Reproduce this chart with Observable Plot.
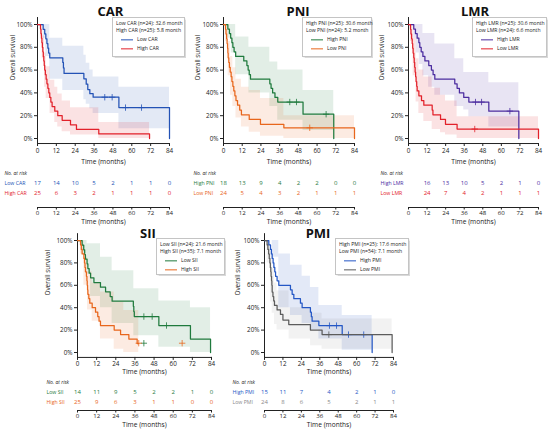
<!DOCTYPE html>
<html><head><meta charset="utf-8">
<script src="https://cdn.jsdelivr.net/npm/d3@7"></script>
<script src="https://cdn.jsdelivr.net/npm/@observablehq/plot@0.6"></script>
<style>
body{margin:0;background:#fff;}
#fig{position:relative;width:550px;height:432px;overflow:hidden;background:#fff;font-family:"Open Sans",sans-serif;}
#fig svg{position:absolute;overflow:visible;}
.ttl{position:absolute;font-weight:700;font-size:13px;color:#111;transform:translate(-50%,-50%);white-space:nowrap;line-height:1;}
.lg{position:absolute;background:#fff;border:0.6px solid #c4c4c4;box-shadow:0.6px 0.6px 1px rgba(0,0,0,0.15);box-sizing:border-box;}
.lg div{position:absolute;white-space:nowrap;font-size:5.1px;color:#222;line-height:1;transform:translateY(-50%);}
.lg span{position:absolute;height:1.3px;transform:translateY(-50%);}
</style></head><body><div id="fig"></div>
<script>
// ---------- data ----------
const X_TICKS = [0, 12, 24, 36, 48, 60, 72, 84];
const Y_TICKS = [0, 20, 40, 60, 80, 100];

// CAR
const carLowT = [0, 3.6, 4.6, 5.3, 6, 6.6, 7.1, 7.8, 16.1, 16.5, 16.9, 29.5, 31, 32, 33.3, 35.4, 51.8, 84];
const carLowS = [100, 95.8, 91.7, 87.5, 83.3, 79.2, 75, 70.8, 66.7, 61.9, 57.1, 52.4, 47.6, 42.9, 39.3, 36.2, 27.1, 0];
const carLowCT = [42.8, 47.5, 56, 66.2];
const carLowCS = [36.2, 36.2, 27.1, 27.1];
const carLowBT = [0, 3.6, 5.3, 7.8, 16.1, 29.5, 31, 33.3, 35.4, 51.8, 84];
const carLowHi = [100, 100, 100, 88, 81, 73, 66, 60, 54, 45, 45];
const carLowLo = [100, 88, 72, 52, 42, 34, 30, 26, 22, 8.5, 8.5];
const carHighT = [0, 1.9, 2.2, 2.5, 2.8, 3.1, 3.4, 3.7, 4, 4.3, 4.6, 5, 5.5, 6, 6.6, 7.2, 7.8, 8.5, 9.3, 11, 12.9, 15.7, 21, 24.8, 39, 71.3];
const carHighS = [100, 96, 92, 88, 84, 80, 76, 72, 68, 64, 60, 56, 52, 48, 44, 40, 36, 32, 28, 24, 20, 16, 12, 8, 4, 0];
const carHighCT = [];
const carHighCS = [];
const carHighBT = [0, 1.9, 3, 4.5, 5.5, 8, 11, 12.9, 15.7, 21, 39, 71.3];
const carHighHi = [100, 100, 90, 75, 63, 51, 45, 39, 33, 27, 14, 14];
const carHighLo = [100, 90, 70, 45, 35, 22, 14, 10, 6, 3, 0, 0];

// PNI
const pniHighT = [0, 2.8, 3.8, 4.6, 5.4, 6, 6.8, 7.8, 13, 15, 15.8, 16.5, 17.3, 29.7, 30.5, 31.5, 33, 34.8, 51, 70.7];
const pniHighS = [100, 96, 92, 88, 84, 80, 76, 72, 68, 64, 60, 56, 52, 48, 44, 40, 36, 32, 21.3, 0];
const pniHighCT = [42.5, 46.8, 65.8];
const pniHighCS = [32, 32, 21.3];
const pniHighBT = [0, 2.8, 5, 7.8, 16.3, 29.7, 34.8, 51, 70.7];
const pniHighHi = [100, 100, 100, 89, 80, 67, 60, 42, 42];
const pniHighLo = [100, 88, 75, 56, 40, 28, 16, 7, 7];
const pniLowT = [0, 1.3, 1.6, 2, 2.3, 2.6, 2.8, 3, 3.4, 3.8, 4.3, 4.9, 5.4, 6, 6.6, 7.3, 8, 9, 10.4, 11.5, 16.5, 23.7, 38.7, 84];
const pniLowS = [100, 95.8, 91.7, 87.5, 83.3, 79.2, 75, 70.8, 66.7, 62.5, 58.3, 54.2, 50, 45.8, 41.7, 37.5, 33.3, 29.2, 25, 20.8, 16.7, 12.5, 9.4, 0];
const pniLowCT = [55.3];
const pniLowCS = [9.4];
const pniLowBT = [0, 1.3, 3, 4.5, 6, 8, 11.5, 16.5, 23.7, 38.7, 84];
const pniLowHi = [100, 100, 85, 72, 62, 52, 45, 42, 35, 20, 20];
const pniLowLo = [100, 85, 55, 38, 28, 18, 10, 5.5, 2, 0, 0];

// LMR
const lmrHighT = [0, 3.4, 4.5, 5.6, 6.7, 7.3, 8.2, 9.3, 10.6, 13.1, 14.8, 15.9, 17, 29.9, 31.4, 32.9, 35.7, 39, 51.9, 71.3];
const lmrHighS = [100, 96, 92, 88, 84, 80, 76, 72, 68, 64, 60, 56, 52, 48, 44, 40, 36, 32, 24, 0];
const lmrHighCT = [43.3, 47.2, 65.5];
const lmrHighCS = [32, 32, 24];
const lmrHighBT = [0, 3.4, 5, 7, 9.3, 13, 17, 29.9, 35.7, 39, 51.9, 71.3];
const lmrHighHi = [100, 100, 100, 100, 92, 92, 83, 70, 58, 58, 49, 49];
const lmrHighLo = [100, 88, 75, 65, 55, 45, 38, 28, 25, 19, 10, 10];
const lmrLowT = [0, 1.3, 1.6, 2, 2.4, 2.7, 3, 3.4, 3.7, 4, 4.3, 4.6, 4.9, 5.3, 5.6, 6.7, 8.4, 9.9, 15.3, 15.8, 20.7, 23.9, 31.4, 84];
const lmrLowS = [100, 95.8, 91.7, 87.5, 83.3, 79.2, 75, 70.8, 66.7, 62.5, 58.3, 54.2, 50, 45.8, 41.7, 37.5, 33.3, 29.2, 25, 20.8, 16.7, 12.5, 8.3, 0];
const lmrLowCT = [42.8];
const lmrLowCS = [8.3];
const lmrLowBT = [0, 1.3, 3, 4.9, 6.7, 9.9, 15.3, 20.7, 23.9, 31.4, 84];
const lmrLowHi = [100, 100, 88, 70, 60, 54, 44, 38, 33, 19, 19];
const lmrLowLo = [100, 85, 55, 32, 22, 15, 8, 5, 3, 0, 0];

// SII
const siiLowT = [0, 2.9, 3.9, 4.5, 5, 6, 6.5, 7.3, 8.2, 10.3, 14.4, 17.6, 20.5, 21.7, 35, 35.3, 35.6, 51, 70.8, 83.4];
const siiLowS = [100, 95.8, 91.7, 87.5, 83.3, 79.2, 75, 70.8, 66.7, 62.5, 58.3, 54.2, 50, 45.8, 41.2, 36.6, 32.1, 24.1, 12, 0];
const siiLowCT = [41.6, 46.8, 55.8, 41.6];
const siiLowCS = [32.1, 32.1, 24.1, 8.3];
const siiLowBT = [0, 2.9, 6, 8.2, 14.4, 21.7, 35.3, 51, 70.8, 83.4];
const siiLowHi = [100, 100, 97, 97, 85, 73, 57, 46, 40, 40];
const siiLowLo = [100, 88, 70, 50, 40, 26, 15, 4.7, 0, 0];
const siiHighT = [0, 1.9, 2.4, 2.9, 4, 4.4, 4.7, 5, 5.6, 5.9, 6.1, 6.3, 6.5, 7.1, 7.7, 9.2, 11.3, 12.7, 13.5, 14.4, 23, 27, 32.2, 37.4, 38.4];
const siiHighS = [100, 96, 92, 88, 84, 80, 76, 72, 68, 64, 60, 56, 52, 48, 44, 40, 36, 32, 28, 24, 20, 16, 12, 8, 8];
const siiHighCT = [38.4, 65.6];
const siiHighCS = [8.3, 8.3];
const siiHighBT = [0, 1.9, 4, 6.3, 9.2, 14.4, 23, 29, 38.4];
const siiHighHi = [100, 100, 85, 72, 62, 54, 45, 37.5, 37.5];
const siiHighLo = [100, 88, 60, 38, 28, 12, 3, 0, 0];

// PMI
const pmiHighT = [0, 2.8, 3.9, 4.5, 5, 5.6, 6.1, 6.7, 7.2, 8.2, 9.3, 16.9, 18, 19.1, 23.4, 24.5, 29.9, 30.5, 31, 35.4, 50.6, 70.1];
const pmiHighS = [100, 96, 92, 88, 84, 80, 76, 72, 68, 64, 60, 56, 52, 48, 44, 40, 36, 32, 28, 24, 16, 0];
const pmiHighCT = [42.3, 46.9, 54.7, 64.6];
const pmiHighCS = [24, 24, 16, 16];
const pmiHighBT = [0, 5, 9.3, 16.9, 24.5, 29.9, 35.4, 50.6, 70.1];
const pmiHighHi = [100, 100, 88, 78, 68, 58, 42, 33, 33];
const pmiHighLo = [100, 85, 40, 33, 26, 20, 12, 2, 2];
const pmiLowT = [0, 1.7, 2.2, 2.7, 3.1, 3.5, 3.8, 4.1, 4.3, 4.6, 4.8, 5, 5.5, 6, 6.5, 8.2, 10.4, 12, 15.8, 29.9, 37.5, 83.1];
const pmiLowS = [100, 96, 92, 88, 84, 80, 76, 72, 68, 64, 60, 54, 50, 46, 42, 38, 34, 29, 25, 20, 16, 0];
const pmiLowCT = [41.9];
const pmiLowCS = [16];
const pmiLowBT = [0, 1.7, 4, 5, 6.5, 8.2, 16, 30, 37.5, 83.1];
const pmiLowHi = [100, 100, 90, 75, 62, 55, 40, 35, 30, 30];
const pmiLowLo = [100, 80, 45, 35, 25, 20, 12, 6, 3, 3];

// numbers at risk
const RISK_T = [0, 12, 24, 36, 48, 60, 72, 84];
const carRiskLow = [17, 14, 10, 5, 2, 1, 1, 0];
const carRiskHigh = [25, 6, 3, 2, 1, 1, 1, 0];
const pniRiskHigh = [18, 13, 9, 4, 2, 2, 0, 0];
const pniRiskLow = [24, 5, 4, 3, 2, 1, 1, 1];
const lmrRiskT = [12, 24, 36, 48, 60, 72, 84];
const lmrRiskHigh = [16, 13, 10, 5, 2, 1, 0];
const lmrRiskLow = [24, 7, 4, 2, 1, 1, 1];
const siiRiskLow = [14, 11, 9, 5, 2, 2, 1, 0];
const siiRiskHigh = [25, 9, 6, 3, 1, 1, 0, 0];
const pmiRiskT = [0, 12, 24, 42, 60, 72, 84];
const pmiRiskHigh = [15, 11, 7, 4, 2, 1, 0];
const pmiRiskLow = [24, 8, 6, 5, 2, 1, 1];

// legend texts
const carLegend = ["Low CAR (n=24): 32.6 month", "High CAR (n=25): 5.8 month"];
const pniLegend = ["High PNI (n=25): 30.6 month", "Low PNI (n=24): 5.2 month"];
const lmrLegend = ["High LMR (n=25): 30.6 month", "Low LMR (n=24): 6.6 month"];
const siiLegend = ["Low SII (n=24): 21.6 month", "High SII (n=35): 7.1 month"];
const pmiLegend = ["High PMI (n=25): 17.6 month", "Low PMI (n=54): 7.1 month"];

// ---------- style / layout ----------
const FONT = '"Open Sans", sans-serif';
const Y_DOMAIN = [-4.4, 106.1];
const C = {blue: "#2352b5", red: "#e2212a", green: "#1f7a3d", orange: "#e8661c", purple: "#4b2c9f", gray: "#5c5c5c", pmiBlue: "#2457c5"};

const TOP = {kmTop: 0, kmH: 172, y100: 24, y0: 138, xlabDy: 20, riskTop: 165, riskH: 62, riskAxis: 207, riskRows: [173, 193], riskLabDy: 16, lgRows: [6.2, 12.8, 22, 31], lgH: 40, titleY: 10.5};
const BOT = {kmTop: 225, kmH: 155, y100: 240, y0: 352, xlabDy: 17, riskTop: 375, riskH: 57, riskAxis: 410, riskRows: [381, 402], riskLabDy: 16.5, lgRows: [6.2, 12.8, 21.5, 30.5], lgH: 37, titleY: 233};

const fig = document.getElementById("fig");
const pts = (T, S) => T.map((t, i) => ({t, s: S[i]}));
const bnd = (T, lo, hi) => T.map((t, i) => ({t, lo: lo[i], hi: hi[i]}));

function place(el, x, y) { el.style.left = x + "px"; el.style.top = y + "px"; fig.appendChild(el); }

function km(p, curves) {
  const k = (p.y0 - p.y100) / 100;
  const fTop = p.y100 - (Y_DOMAIN[1] - 100) * k;
  const fBot = p.y0 - Y_DOMAIN[0] * k;
  const marks = [];
  curves.forEach(c => marks.push(Plot.areaY(bnd(c.bt, c.lo, c.hi), {x: "t", y1: "lo", y2: "hi", curve: "step-after", fill: c.color, fillOpacity: c.op})));
  curves.forEach(c => {
    marks.push(Plot.line(pts(c.t, c.s), {x: "t", y: "s", curve: "step-after", stroke: c.color, strokeWidth: 1.25}));
    marks.push(Plot.dot(pts(c.ct, c.cs), {x: "t", y: "s", symbol: "plus", r: 2.2, stroke: c.color, fill: "none", strokeWidth: 0.8}));
  });
  marks.push(Plot.text(["Time (months)"], {text: d => d, frameAnchor: "bottom", dy: p.xlabDy, fontSize: 6.6}));
  marks.push(Plot.text(["Overall survival"], {text: d => d, frameAnchor: "left", rotate: -90, dx: p.ylabX - p.x0, fontSize: 6.4}));
  const svg = Plot.plot({
    width: p.right - p.left, height: p.kmH,
    marginLeft: p.x0 - p.left, marginRight: p.right - p.x84,
    marginTop: fTop - p.kmTop, marginBottom: p.kmTop + p.kmH - fBot,
    x: {domain: [0, 84], ticks: X_TICKS, tickSize: 3, tickPadding: 1.5, label: null, line: true},
    y: {domain: Y_DOMAIN, ticks: Y_TICKS, tickFormat: d => d + "%", tickSize: 3, tickPadding: 2, label: null, line: true},
    style: {fontFamily: FONT, fontSize: "6.3px", background: "transparent", color: "#222", overflow: "visible"},
    marks
  });
  place(svg, p.left, p.kmTop);
}

function risk(p, rows) {
  const labels = ["No. at risk", ...rows.map(r => r.label)];
  const cells = rows.flatMap(r => r.times.map((t, i) => ({t, row: r.label, v: String(r.values[i]), color: r.color})));
  const svg = Plot.plot({
    width: p.right - p.left, height: p.riskH,
    marginLeft: p.x0 - p.left, marginRight: p.right - p.x84,
    marginTop: 0, marginBottom: p.riskTop + p.riskH - p.riskAxis,
    x: {domain: [0, 84], ticks: X_TICKS, tickSize: 2.5, tickPadding: 1, label: null, line: true},
    y: {type: "point", domain: labels, range: p.riskRows.map(v => v - p.riskTop), padding: 0, axis: null},
    color: {type: "identity"},
    style: {fontFamily: FONT, fontSize: "6.1px", background: "transparent", color: "#222", overflow: "visible"},
    marks: [
      Plot.text(cells, {x: "t", y: "row", text: "v", fill: "color", fontSize: 6}),
      Plot.text(rows, {y: "label", text: "label", fill: "color", frameAnchor: "left", textAnchor: "start", dx: p.rowLabX - p.x0, fontSize: 5.2}),
      Plot.text(["No. at risk"], {y: d => d, text: d => d, frameAnchor: "left", textAnchor: "start", dx: p.rowLabX - p.x0, fontSize: 5, fontStyle: "italic", fill: "#222"}),
      Plot.text(["Time (months)"], {text: d => d, frameAnchor: "bottom", dy: p.riskLabDy, fontSize: 6.6})
    ]
  });
  place(svg, p.left, p.riskTop);
}

function legend(p, lines, entries) {
  const box = document.createElement("div");
  box.className = "lg";
  box.style.width = p.lg[1] + "px";
  box.style.height = p.lgH + "px";
  lines.forEach((s, i) => {
    const d = document.createElement("div");
    d.textContent = s; d.style.left = "3px"; d.style.top = p.lgRows[i] + "px";
    box.appendChild(d);
  });
  entries.forEach((e, i) => {
    const sw = document.createElement("span");
    sw.style.left = "8px"; sw.style.width = "12px"; sw.style.top = p.lgRows[2 + i] + "px"; sw.style.background = e.color;
    box.appendChild(sw);
    const d = document.createElement("div");
    d.textContent = e.label; d.style.left = "24px"; d.style.top = p.lgRows[2 + i] + "px";
    box.appendChild(d);
  });
  place(box, p.lg[0], p.lgY);
}

function title(p, text) {
  const d = document.createElement("div");
  d.className = "ttl"; d.textContent = text;
  place(d, p.titleX, p.titleY);
}

function panel(p, name, curves, rows, lines) {
  km(p, curves);
  risk(p, rows);
  legend(p, lines, curves.map(c => ({label: c.label, color: c.color})));
  title(p, name);
}

const mk = (label, color, t, s, ct, cs, bt, lo, hi, op = 0.13) => ({label, color, t, s, ct, cs, bt, lo, hi, op});

panel({...TOP, left: 0, right: 185, x0: 37, x84: 169, ylabX: 12, rowLabX: 4, titleX: 110.5, lg: [112, 73], lgY: 17}, "CAR",
  [mk("Low CAR", C.blue, carLowT, carLowS, carLowCT, carLowCS, carLowBT, carLowLo, carLowHi),
   mk("High CAR", C.red, carHighT, carHighS, carHighCT, carHighCS, carHighBT, carHighLo, carHighHi)],
  [{label: "Low CAR", color: C.blue, times: RISK_T, values: carRiskLow},
   {label: "High CAR", color: C.red, times: RISK_T, values: carRiskHigh}], carLegend);

panel({...TOP, left: 185, right: 370, x0: 223, x84: 354, ylabX: 197, rowLabX: 193, titleX: 298, lg: [302, 70], lgY: 17}, "PNI",
  [mk("High PNI", C.green, pniHighT, pniHighS, pniHighCT, pniHighCS, pniHighBT, pniHighLo, pniHighHi),
   mk("Low PNI", C.orange, pniLowT, pniLowS, pniLowCT, pniLowCS, pniLowBT, pniLowLo, pniLowHi)],
  [{label: "High PNI", color: C.green, times: RISK_T, values: pniRiskHigh},
   {label: "Low PNI", color: C.orange, times: RISK_T, values: pniRiskLow}], pniLegend);

panel({...TOP, left: 370, right: 550, x0: 408, x84: 538, ylabX: 381, rowLabX: 380, titleX: 475, lg: [472, 75], lgY: 17}, "LMR",
  [mk("High LMR", C.purple, lmrHighT, lmrHighS, lmrHighCT, lmrHighCS, lmrHighBT, lmrHighLo, lmrHighHi),
   mk("Low LMR", C.red, lmrLowT, lmrLowS, lmrLowCT, lmrLowCS, lmrLowBT, lmrLowLo, lmrLowHi)],
  [{label: "High LMR", color: C.purple, times: lmrRiskT, values: lmrRiskHigh},
   {label: "Low LMR", color: C.red, times: lmrRiskT, values: lmrRiskLow}], lmrLegend);

panel({...BOT, left: 30, right: 240, x0: 77, x84: 211, ylabX: 47, rowLabX: 46, titleX: 148, lg: [156, 69], lgY: 238}, "SII",
  [mk("Low SII", C.green, siiLowT, siiLowS, siiLowCT, siiLowCS, siiLowBT, siiLowLo, siiLowHi),
   mk("High SII", C.orange, siiHighT, siiHighS, siiHighCT, siiHighCS, siiHighBT, siiHighLo, siiHighHi)],
  [{label: "Low SII", color: C.green, times: RISK_T, values: siiRiskLow},
   {label: "High SII", color: C.orange, times: RISK_T, values: siiRiskHigh}], siiLegend);

panel({...BOT, left: 225, right: 420, x0: 264, x84: 393, ylabX: 237, rowLabX: 232, titleX: 318, lg: [335, 74], lgY: 238}, "PMI",
  [mk("High PMI", C.pmiBlue, pmiHighT, pmiHighS, pmiHighCT, pmiHighCS, pmiHighBT, pmiHighLo, pmiHighHi),
   mk("Low PMI", C.gray, pmiLowT, pmiLowS, pmiLowCT, pmiLowCS, pmiLowBT, pmiLowLo, pmiLowHi, 0.08)],
  [{label: "High PMI", color: C.pmiBlue, times: pmiRiskT, values: pmiRiskHigh},
   {label: "Low PMI", color: "#8a8a8a", times: pmiRiskT, values: pmiRiskLow}], pmiLegend);
</script></body></html>
